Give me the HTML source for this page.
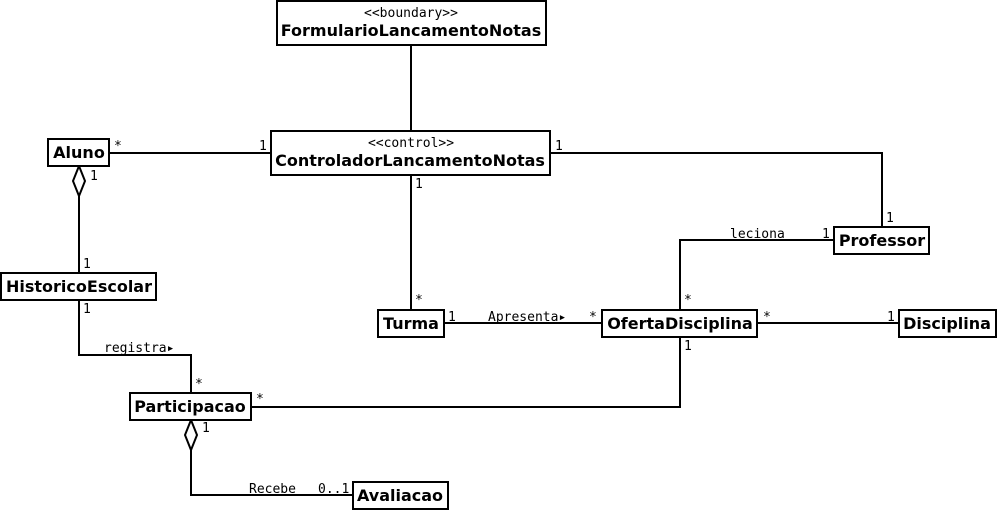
<!DOCTYPE html>
<html><head><meta charset="utf-8"><style>
body{margin:0;background:#fff}
svg{display:block}
.b{font-family:"DejaVu Sans","Liberation Sans",sans-serif;font-weight:bold;font-size:16px}
.m{font-family:"DejaVu Sans Mono","Liberation Mono",monospace;font-size:13px}
</style></head><body>
<svg width="999" height="514" xmlns="http://www.w3.org/2000/svg">
<g fill="none" stroke="#000" stroke-width="2">
<line x1="411" y1="45" x2="411" y2="131"/>
<line x1="109" y1="153" x2="271" y2="153"/>
<polyline points="550,153 882,153 882,227"/>
<line x1="411" y1="175" x2="411" y2="310"/>
<line x1="79" y1="195" x2="79" y2="273"/>
<polygon points="79,166 85,181 79,196 73,181" fill="#fff"/>
<polyline points="79,300 79,355 191,355 191,393"/>
<line x1="444" y1="323" x2="602" y2="323"/>
<line x1="757" y1="323" x2="899" y2="323"/>
<polyline points="834,240 680,240 680,310"/>
<polyline points="251,407 680,407 680,337"/>
<polyline points="191,450 191,495 353,495"/>
<polygon points="191,420 197,435 191,450 185,435" fill="#fff"/>
</g>
<g fill="#fff" stroke="#000" stroke-width="2">
<rect x="277" y="1" width="269" height="44"/>
<rect x="271" y="131" width="279" height="44"/>
<rect x="48" y="139" width="61" height="27"/>
<rect x="1" y="273" width="155" height="27"/>
<rect x="378" y="310" width="66" height="27"/>
<rect x="602" y="310" width="155" height="27"/>
<rect x="899" y="310" width="97" height="27"/>
<rect x="834" y="227" width="95" height="27"/>
<rect x="130" y="393" width="121" height="27"/>
<rect x="353" y="482" width="95" height="27"/>
</g>
<g class="b" text-anchor="middle">
<text x="411" y="36">FormularioLancamentoNotas</text>
<text x="410" y="166">ControladorLancamentoNotas</text>
<text x="79" y="158">Aluno</text>
<text x="79" y="292">HistoricoEscolar</text>
<text x="411" y="329">Turma</text>
<text x="680" y="329">OfertaDisciplina</text>
<text x="947" y="329">Disciplina</text>
<text x="882" y="246">Professor</text>
<text x="190" y="412">Participacao</text>
<text x="400" y="501">Avaliacao</text>
</g>
<g class="m">
<text x="411" y="17" text-anchor="middle">&lt;&lt;boundary&gt;&gt;</text>
<text x="411" y="147" text-anchor="middle">&lt;&lt;control&gt;&gt;</text>
<text x="114" y="150">*</text>
<text x="259" y="150">1</text>
<text x="555" y="150">1</text>
<text x="415" y="188">1</text>
<text x="90" y="180">1</text>
<text x="83" y="268">1</text>
<text x="83" y="313">1</text>
<text x="104" y="352">registra▸</text>
<text x="195" y="388">*</text>
<text x="415" y="304">*</text>
<text x="448" y="321">1</text>
<text x="488" y="321">Apresenta▸</text>
<text x="589" y="321">*</text>
<text x="763" y="321">*</text>
<text x="887" y="321">1</text>
<text x="730" y="238">leciona</text>
<text x="822" y="238">1</text>
<text x="886" y="222">1</text>
<text x="684" y="304">*</text>
<text x="684" y="350">1</text>
<text x="256" y="403">*</text>
<text x="202" y="432">1</text>
<text x="249" y="493">Recebe</text>
<text x="318" y="493">0..1</text>
</g>
</svg>
</body></html>
